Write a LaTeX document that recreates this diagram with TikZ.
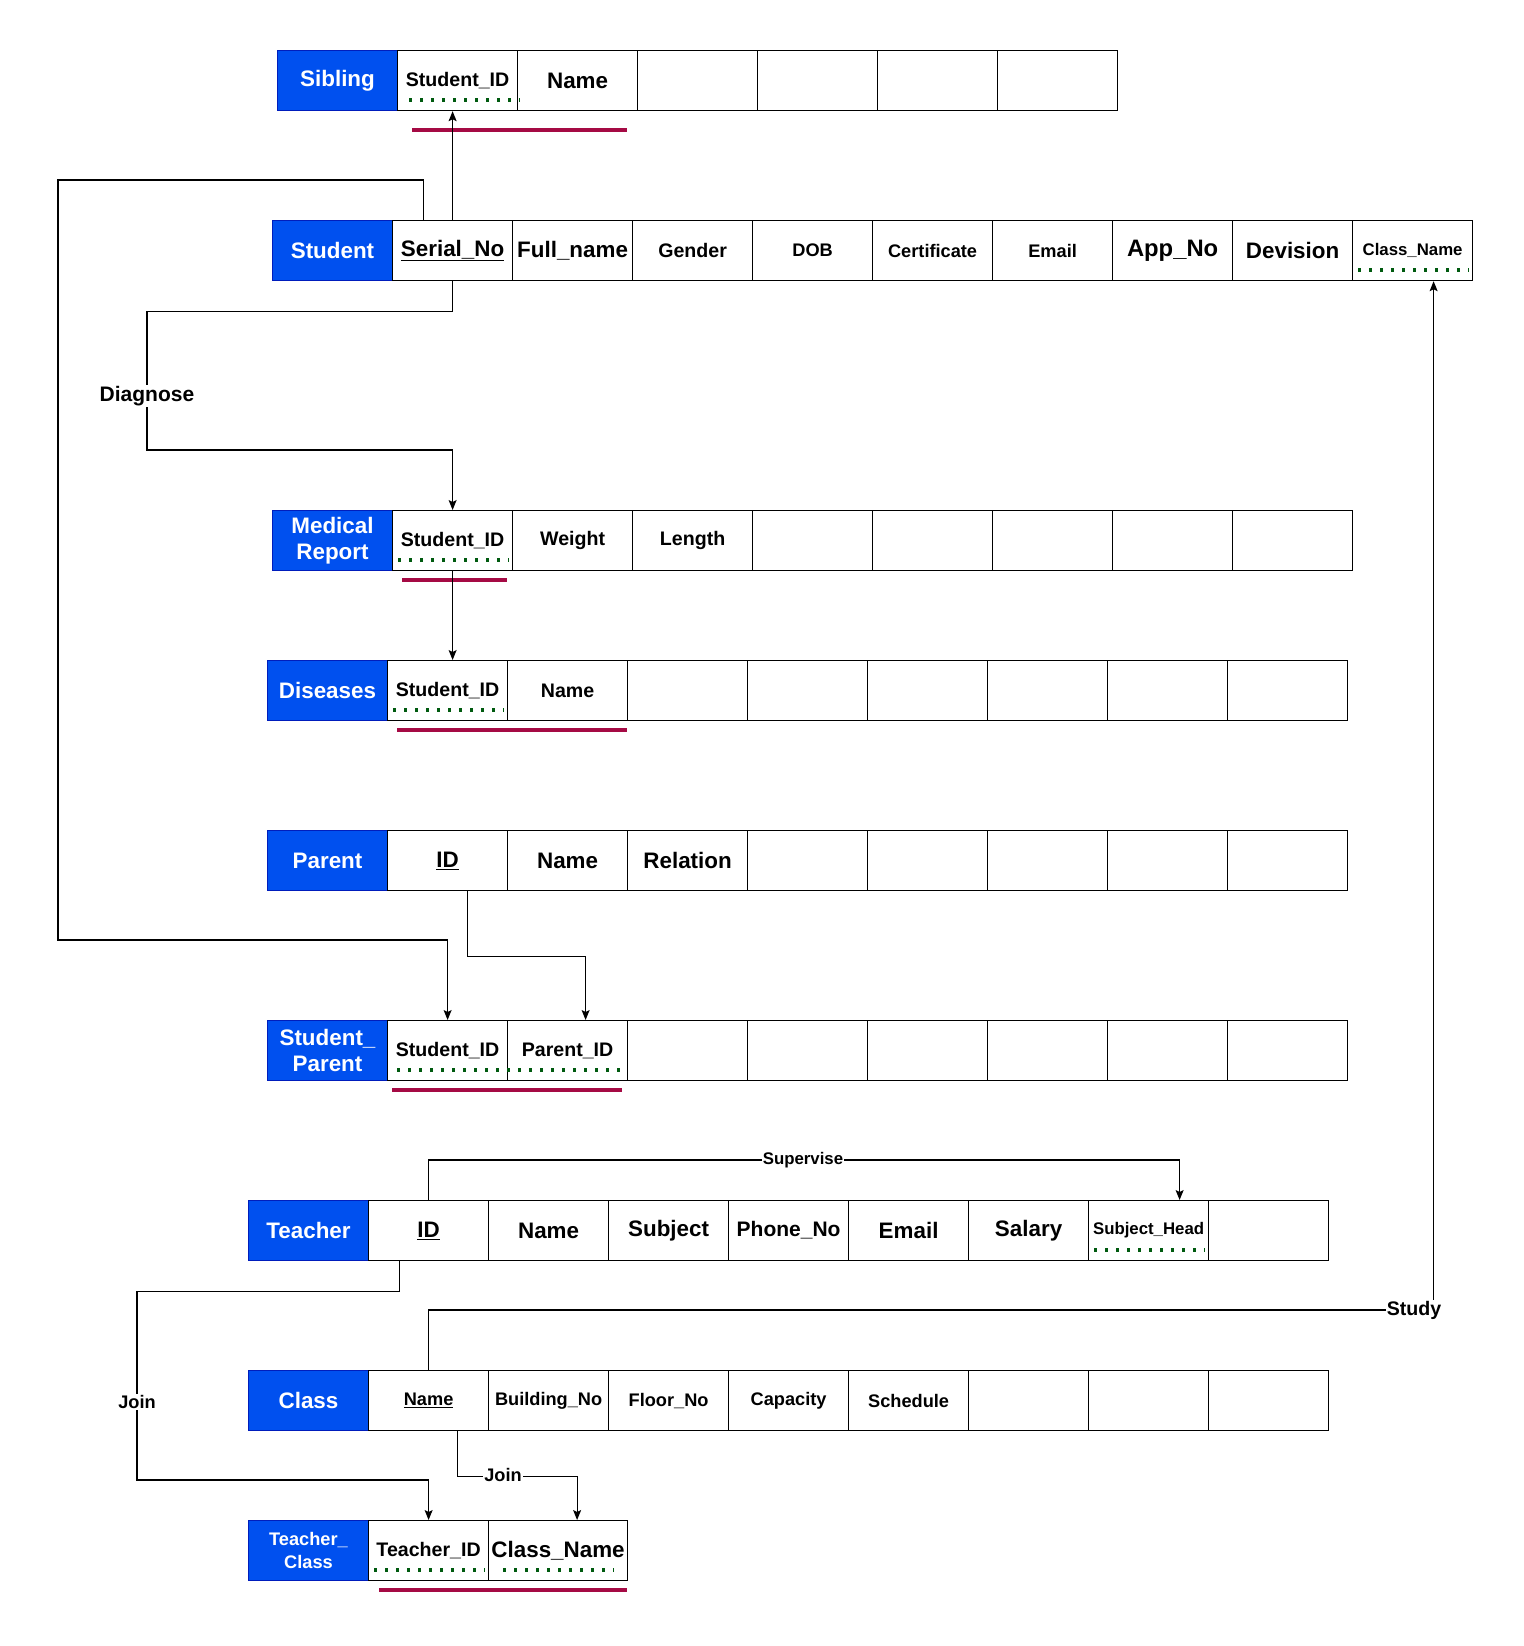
\documentclass[tikz,border=0pt]{standalone}
\usepackage{fontspec}
\setmainfont{Liberation Sans}
\usetikzlibrary{arrows.meta,calc}
\definecolor{hblue}{HTML}{0050EF}
\definecolor{hborder}{HTML}{001DBC}
\definecolor{keyred}{RGB}{165,10,68}
\definecolor{fkgreen}{RGB}{0,90,15}
\newcommand\fsz[2]{\fontsize{#1pt}{#2pt}\selectfont}
\tikzset{
  hdr/.style={draw=hborder, fill=hblue, text=white, font=\bfseries\fsz{22.4}{26.5},
    minimum width=120pt, minimum height=60pt, anchor=north west, inner sep=0pt,
    align=center, line width=1pt},
  cell/.style={draw=black, fill=white, minimum width=120pt, minimum height=60pt,
    anchor=north west, inner sep=0pt, align=center, line width=1.2pt,
    font=\bfseries\fsz{22.4}{26}},
  fa/.style={font=\bfseries\fsz{22.4}{26}},
  fb/.style={font=\bfseries\fsz{19.6}{23}},
  fc/.style={font=\bfseries\fsz{18.2}{22}},
  fd/.style={font=\bfseries\fsz{16.8}{20}},
  conn/.style={draw=black, line width=1.2pt},
  arr/.style={conn, -{Stealth[length=10pt,width=8pt,inset=2pt]}},
  keyline/.style={draw=keyred, line width=3.5pt},
  fkdots/.style={draw=fkgreen, line width=3.2pt, dash pattern=on 3.2pt off 7.8pt},
  lbl/.style={fill=white, inner sep=1pt, font=\bfseries\fsz{18.2}{22}},
}
\begin{document}
\begin{tikzpicture}[x=1pt,y=-1pt]
\useasboundingbox[fill=white] (0,0) rectangle (1523,1646);

% ---------- Sibling ----------
\node[hdr] (sib) at (277,50) {Sibling};
\node[cell,fb] (sib1) at (397,50) {Student\_ID};
\node[cell,fa] (sib2) at (517,50) {Name};
\foreach \i in {3,...,6} \node[cell] (sib\i) at ({397+120*(\i-1)},50) {};

% ---------- Student ----------
\node[hdr] (stu) at (272,220) {Student};
\node[cell,fa] (stu1) at (392,220) {\underline{Serial\_No}};
\node[cell,fa] (stu2) at (512,220) {Full\_name};
\node[cell,fb] (stu3) at (632,220) {Gender};
\node[cell,fc] (stu4) at (752,220) {DOB};
\node[cell,fc] (stu5) at (872,220) {Certificate};
\node[cell,fc] (stu6) at (992,220) {Email};
\node[cell,font=\bfseries\fsz{23.8}{28}] (stu7) at (1112,220) {App\_No};
\node[cell,fa] (stu8) at (1232,220) {Devision};
\node[cell,fd] (stu9) at (1352,220) {Class\_Name};

% ---------- Medical Report ----------
\node[hdr] (med) at (272,510) {Medical\\Report};
\node[cell,fb] (med1) at (392,510) {Student\_ID};
\node[cell,fb] (med2) at (512,510) {Weight};
\node[cell,fb] (med3) at (632,510) {Length};
\foreach \i in {4,...,8} \node[cell] (med\i) at ({392+120*(\i-1)},510) {};

% ---------- Diseases ----------
\node[hdr] (dis) at (267,660) {Diseases};
\node[cell,fb] (dis1) at (387,660) {Student\_ID};
\node[cell,fb] (dis2) at (507,660) {Name};
\foreach \i in {3,...,8} \node[cell] (dis\i) at ({387+120*(\i-1)},660) {};

% ---------- Parent ----------
\node[hdr] (par) at (267,830) {Parent};
\node[cell,fa] (par1) at (387,830) {\underline{ID}};
\node[cell,fa] (par2) at (507,830) {Name};
\node[cell,fa] (par3) at (627,830) {Relation};
\foreach \i in {4,...,8} \node[cell] (par\i) at ({387+120*(\i-1)},830) {};

% ---------- Student_Parent ----------
\node[hdr] (sp) at (267,1020) {Student\_\\Parent};
\node[cell,fb] (sp1) at (387,1020) {Student\_ID};
\node[cell,fb] (sp2) at (507,1020) {Parent\_ID};
\foreach \i in {3,...,8} \node[cell] (sp\i) at ({387+120*(\i-1)},1020) {};

% ---------- Teacher ----------
\node[hdr] (tea) at (248,1200) {Teacher};
\node[cell,fa] (tea1) at (368,1200) {\underline{ID}};
\node[cell,fa] (tea2) at (488,1200) {Name};
\node[cell,fa] (tea3) at (608,1200) {Subject};
\node[cell,font=\bfseries\fsz{21}{25}] (tea4) at (728,1200) {Phone\_No};
\node[cell,fa] (tea5) at (848,1200) {Email};
\node[cell,fa] (tea6) at (968,1200) {Salary};
\node[cell,fd] (tea7) at (1088,1200) {Subject\_Head};
\node[cell] (tea8) at (1208,1200) {};

% ---------- Class ----------
\node[hdr] (cls) at (248,1370) {Class};
\node[cell,fc] (cls1) at (368,1370) {\underline{Name}};
\node[cell,fc] (cls2) at (488,1370) {Building\_No};
\node[cell,fc] (cls3) at (608,1370) {Floor\_No};
\node[cell,fc] (cls4) at (728,1370) {Capacity};
\node[cell,fc] (cls5) at (848,1370) {Schedule};
\foreach \i in {6,...,8} \node[cell] (cls\i) at ({368+120*(\i-1)},1370) {};

% ---------- Teacher_Class ----------
\node[hdr,font=\bfseries\fsz{18.2}{23}] (tc) at (248,1520) {Teacher\_\\Class};
\node[cell,fb] (tc1) at (368,1520) {Teacher\_ID};
\node[cell,fa,minimum width=139pt] (tc2) at (488,1520) {Class\_Name};

% ---------- key underlines (red) ----------
\draw[keyline] (412,130) -- (627,130);
\draw[keyline] (402,580) -- (507,580);
\draw[keyline] (397,730) -- (627,730);
\draw[keyline] (392,1090) -- (622,1090);
\draw[keyline] (379,1590) -- (627,1590);

% ---------- foreign key dots (green) ----------
\draw[fkdots] (409,100) -- (520,100);
\draw[fkdots] (1358,270) -- (1469,270);
\draw[fkdots] (398,560) -- (509,560);
\draw[fkdots] (393,710) -- (504,710);
\draw[fkdots] (397,1070) -- (624,1070);
\draw[fkdots] (1094,1250) -- (1205,1250);
\draw[fkdots] (374,1570) -- (485,1570);
\draw[fkdots] (503,1570) -- (614,1570);

% ---------- connectors ----------
\coordinate (lp1) at (58,180);
\coordinate (lp2) at (58,940);
\coordinate (dg) at (147,450);
\coordinate (tj) at (137,1480);

\draw[arr] (stu1.north) -- (stu1.north |- sib1.south);
\draw[arr] ([xshift=-29pt]stu1.north) |- (lp1) -- (lp2) -| (sp1.north);
\draw[arr] (stu1.south) -- ++(0,30) -| (dg) -| (med1.north);
\draw[arr] (med1.south) -- (med1.south |- dis1.north);
\draw[arr] ([xshift=20pt]par1.south) -- ++(0,65) -| ([xshift=18pt]sp2.north);
\draw[arr] (tea1.north) -- ++(0,-40) -| ([xshift=31pt]tea7.north);
\draw[arr] ([xshift=-29pt]tea1.south) -- ++(0,30) -| (tj) -| (tc1.north);
\draw[arr] ([xshift=29pt]cls1.south) -- ++(0,45) -| ([xshift=19pt]tc2.north);
\draw[arr] (cls1.north) -- ++(0,-60) -| ([xshift=21pt]stu9.south);

% ---------- connector labels ----------
\node[lbl,font=\bfseries\fsz{21}{25}] (lDiag) at (147,396) {Diagnose};
\node[lbl,fd] (lSup) at (803,1160) {Supervise};
\node[lbl] (lJoin1) at (137,1402) {Join};
\node[lbl] (lJoin2) at (503,1475) {Join};
\node[lbl,fb] (lStudy) at (1414,1310) {Study};
\end{tikzpicture}
\end{document}
